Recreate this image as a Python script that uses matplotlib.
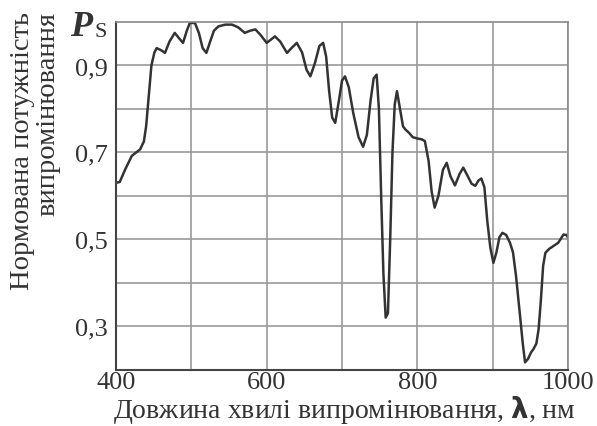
import matplotlib
matplotlib.use("Agg")
import matplotlib.pyplot as plt

# wavelength (nm) and normalised power P_S
wavelength = [400, 405, 412, 421, 432, 437, 440, 443, 447, 451, 454, 460, 465,
              471, 478, 484, 489, 494, 498, 502, 505, 510, 515, 520, 525, 530,
              536, 545, 554, 562, 571, 578, 585, 592, 600, 606, 611, 618, 627,
              633, 640, 647, 653, 658, 664, 670, 675, 679, 683, 687, 691, 696,
              700, 704, 709, 715, 722, 728, 733, 738, 742, 746, 749, 752, 755,
              758, 761, 764, 767, 770, 773, 777, 781, 784, 789, 794, 800, 806,
              810, 815, 819, 823, 828, 834, 839, 844, 850, 856, 861, 867, 872,
              877, 881, 885, 889, 893, 897, 901, 905, 909, 913, 918, 923, 927,
              931, 936, 940, 943, 947, 951, 954, 958, 961, 964, 967, 970, 975,
              981, 987, 994, 998, 1000]
power = [0.630, 0.632, 0.660, 0.692, 0.707, 0.725, 0.760, 0.820, 0.900, 0.930,
         0.940, 0.935, 0.929, 0.955, 0.975, 0.962, 0.952, 0.980, 0.998, 0.998,
         0.997, 0.975, 0.940, 0.929, 0.955, 0.980, 0.990, 0.994, 0.994, 0.988,
         0.975, 0.980, 0.983, 0.970, 0.952, 0.960, 0.967, 0.955, 0.929, 0.940,
         0.952, 0.930, 0.890, 0.875, 0.905, 0.945, 0.952, 0.920, 0.840, 0.780,
         0.768, 0.820, 0.865, 0.875, 0.850, 0.790, 0.735, 0.713, 0.740, 0.820,
         0.870, 0.879, 0.800, 0.600, 0.420, 0.320, 0.330, 0.500, 0.700, 0.810,
         0.841, 0.800, 0.760, 0.753, 0.745, 0.735, 0.732, 0.730, 0.726, 0.680,
         0.610, 0.573, 0.600, 0.660, 0.676, 0.645, 0.624, 0.650, 0.665, 0.645,
         0.628, 0.623, 0.635, 0.640, 0.620, 0.540, 0.480, 0.446, 0.470, 0.505,
         0.515, 0.510, 0.492, 0.470, 0.416, 0.330, 0.260, 0.217, 0.225, 0.240,
         0.247, 0.260, 0.293, 0.360, 0.439, 0.469, 0.478, 0.485, 0.492, 0.511,
         0.510, 0.504]

x_grid = [400, 500, 600, 700, 800, 900, 1000]
x_labels = ["400", "", "600", "", "800", "", "1000"]
y_grid = [0.3, 0.4, 0.5, 0.6, 0.7, 0.8, 0.9]
y_labels = ["0,3", "", "0,5", "", "0,7", "", "0,9"]

plt.rcParams["font.family"] = ["Liberation Serif", "DejaVu Serif"]
text_color = "#333333"

fig = plt.figure(figsize=(5.97, 4.27), dpi=100)
ax = fig.add_axes([0.1943, 0.1318, 0.7571, 0.8143])

ax.plot(wavelength, power, color="#333333", linewidth=1.8, solid_joinstyle="round")

ax.set_xlim(400, 1000)
ax.set_ylim(0.2, 1.0)
ax.set_xticks(x_grid)
ax.set_xticklabels(x_labels)
ax.set_yticks(y_grid)
ax.set_yticklabels(y_labels)
ax.grid(True, color="#9a9a9a", linewidth=1.2)
ax.tick_params(length=0, labelsize=19, labelcolor=text_color)
ax.tick_params(axis="y", pad=6)
ax.tick_params(axis="x", pad=1)
for side in ["top", "right"]:
    ax.spines[side].set_color("#8a8a8a")
    ax.spines[side].set_linewidth(1.2)
for side in ["left", "bottom"]:
    ax.spines[side].set_color("#444444")
    ax.spines[side].set_linewidth(1.5)

fig.text(0.5765, 0.04, "Довжина хвилі випромінювання, $\\mathbf{\\lambda}$, нм",
         fontsize=20, color=text_color, ha="center", va="center")
fig.text(0.059, 0.972, "Нормована потужність\nвипромінювання", fontsize=20.5,
         color=text_color, rotation=90, ha="center", va="top",
         multialignment="right", linespacing=1.05)
fig.text(0.118, 0.935, "P", fontsize=26, color=text_color, ha="left",
         va="center", style="italic", weight="bold")
fig.text(0.158, 0.925, "S", fontsize=16, color=text_color, ha="left", va="center")

fig.savefig("out.png", dpi=100)
